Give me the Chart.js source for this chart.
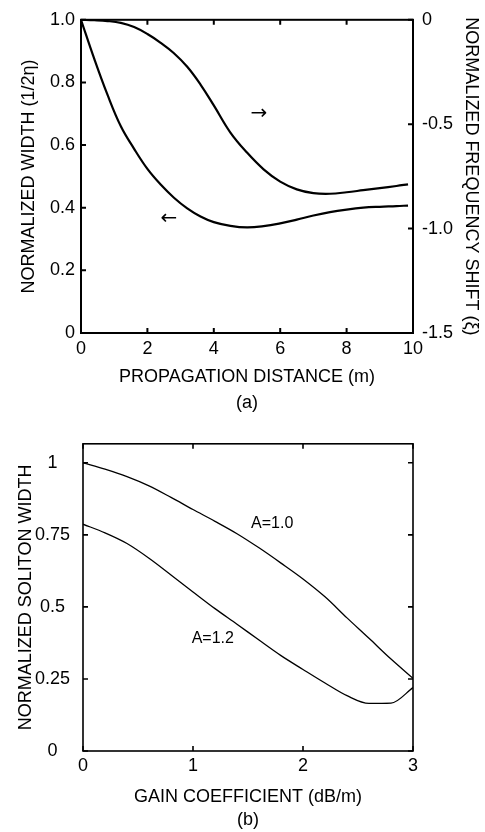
<!DOCTYPE html>
<html>
<head>
<meta charset="utf-8">
<script src="https://cdn.jsdelivr.net/npm/chart.js@4.4.0/dist/chart.umd.min.js"></script>
<style>
body { margin:0; background:#fff; width:485px; height:832px; overflow:hidden; }
canvas { position:absolute; left:0; }
#chartA { top:0; }
#chartB { top:420px; }
</style>
</head>
<body>
<canvas id="chartA" width="485" height="420"></canvas>
<canvas id="chartB" width="485" height="412"></canvas>
<script>
// (a) width and frequency shift against propagation distance
const distA = [0, 0.4, 0.8, 1.2, 1.6, 2.0, 2.4, 2.8, 3.2, 3.6, 4.0, 4.5, 5.0, 5.5, 6.0, 6.5, 7.0, 7.5, 8.0, 8.5, 9.0, 9.5, 9.85];
const widthA = [1.0, 0.875, 0.760, 0.660, 0.588, 0.524, 0.474, 0.432, 0.398, 0.372, 0.354, 0.342, 0.337, 0.341, 0.350, 0.362, 0.375, 0.386, 0.394, 0.400, 0.403, 0.405, 0.407];
const shiftA = [0, -0.002, -0.006, -0.015, -0.035, -0.068, -0.110, -0.160, -0.225, -0.310, -0.410, -0.540, -0.636, -0.716, -0.775, -0.812, -0.830, -0.833, -0.826, -0.816, -0.806, -0.796, -0.788];
const xTicksA = [0, 2, 4, 6, 8, 10];
const xLabelsA = ['0', '2', '4', '6', '8', '10'];
const yTicksA = [0, 0.2, 0.4, 0.6, 0.8, 1.0];
const yLabelsA = ['0', '0.2', '0.4', '0.6', '0.8', '1.0'];
const y2TicksA = [-1.5, -1.0, -0.5, 0];
const y2LabelsA = ['-1.5', '-1.0', '-0.5', '0'];

// (b) soliton width against gain coefficient
const gainB = [0, 0.2, 0.4, 0.6, 0.8, 1.0, 1.2, 1.4, 1.6, 1.8, 2.0, 2.2, 2.4, 2.6, 2.8, 3.0];
const widthB10 = [1.0, 0.978, 0.952, 0.920, 0.880, 0.838, 0.797, 0.754, 0.705, 0.652, 0.597, 0.535, 0.462, 0.391, 0.319, 0.252];
const widthB12 = [0.787, 0.757, 0.720, 0.669, 0.611, 0.552, 0.494, 0.440, 0.385, 0.331, 0.283, 0.236, 0.192, 0.165, 0.166, 0.220];
const xTicksB = [0, 1, 2, 3];
const xLabelsB = ['0', '1', '2', '3'];
const yTicksB = [0, 0.25, 0.5, 0.75, 1];
const yLabelsB = ['0', '0.25', '0.5', '0.75', '1'];

const FONT = '"Liberation Sans", Arial, sans-serif';

function pts(xs, ys) {
    return xs.map((x, i) => ({x: x, y: ys[i]}));
}

function fixTicks(values) {
    return function(scale) { scale.ticks = values.map(v => ({value: v})); };
}

function labelFrom(values, labels) {
    return function(v) { return labels[values.indexOf(v)]; };
}

// frame round the plot and short ticks pointing inward on all four sides
const framePlugin = {
    id: 'frame',
    afterDraw(chart, args, opts) {
        const ctx = chart.ctx;
        const a = chart.chartArea;
        ctx.save();
        ctx.strokeStyle = '#000';
        ctx.lineWidth = opts.width;
        ctx.strokeRect(a.left, a.top, a.right - a.left, a.bottom - a.top);
        ctx.beginPath();
        const len = 5;
        const x = chart.scales.x;
        x.ticks.forEach(t => {
            const px = x.getPixelForValue(t.value);
            ctx.moveTo(px, a.bottom); ctx.lineTo(px, a.bottom - len);
            ctx.moveTo(px, a.top); ctx.lineTo(px, a.top + len);
        });
        const y = chart.scales.y;
        y.ticks.forEach(t => {
            const py = y.getPixelForValue(t.value);
            ctx.moveTo(a.left, py); ctx.lineTo(a.left + len, py);
            if (!chart.scales.y2) { ctx.moveTo(a.right, py); ctx.lineTo(a.right - len, py); }
        });
        if (chart.scales.y2) {
            const y2 = chart.scales.y2;
            y2.ticks.forEach(t => {
                const py = y2.getPixelForValue(t.value);
                ctx.moveTo(a.right, py); ctx.lineTo(a.right - len, py);
            });
        }
        ctx.stroke();
        ctx.restore();
    }
};

// text notes placed at data coordinates
const notePlugin = {
    id: 'notes',
    afterDatasetsDraw(chart, args, opts) {
        const ctx = chart.ctx;
        ctx.save();
        ctx.fillStyle = '#000';
        ctx.textAlign = 'center';
        ctx.textBaseline = 'middle';
        (opts.items || []).forEach(n => {
            const px = chart.scales.x.getPixelForValue(n.x);
            const py = chart.scales[n.axis].getPixelForValue(n.y);
            ctx.font = n.font;
            ctx.fillText(n.text, px, py);
        });
        ctx.restore();
    }
};

const tickFont = {family: FONT, size: 18};

new Chart(document.getElementById('chartA'), {
    type: 'line',
    data: {
        datasets: [
            {data: pts(distA, widthA), yAxisID: 'y', borderColor: '#000', borderWidth: 2.2, pointRadius: 0, tension: 0.4, fill: false},
            {data: pts(distA, shiftA), yAxisID: 'y2', borderColor: '#000', borderWidth: 2.2, pointRadius: 0, tension: 0.4, fill: false}
        ]
    },
    options: {
        responsive: false,
        devicePixelRatio: 1,
        animation: false,
        layout: {padding: {top: 13, left: 0, right: 0, bottom: 0}},
        plugins: {
            legend: {display: false},
            tooltip: {enabled: false},
            frame: {width: 2},
            notes: {items: [
                {text: '\u2192', x: 5.36, y: -0.45, axis: 'y2', font: '20px "DejaVu Sans"'},
                {text: '\u2190', x: 2.65, y: 0.366, axis: 'y', font: '20px "DejaVu Sans"'}
            ]}
        },
        scales: {
            x: {
                type: 'linear', min: 0, max: 10,
                grid: {display: false, drawTicks: false}, border: {display: false},
                afterBuildTicks: fixTicks(xTicksA),
                afterFit: s => { s.height = 87; },
                ticks: {color: '#000', font: tickFont, padding: 5, maxRotation: 0, autoSkip: false, callback: labelFrom(xTicksA, xLabelsA)},
                title: {display: true, text: ['PROPAGATION DISTANCE (m)', '(a)'], color: '#000', font: {family: FONT, size: 18, lineHeight: 1.444}, padding: {top: 0, bottom: 4}}
            },
            y: {
                position: 'left', min: 0, max: 1,
                grid: {display: false, drawTicks: false}, border: {display: false},
                afterBuildTicks: fixTicks(yTicksA),
                afterFit: s => { s.width = 81; },
                ticks: {color: '#000', font: tickFont, padding: 6, autoSkip: false, callback: labelFrom(yTicksA, yLabelsA)},
                title: {display: true, text: 'NORMALIZED WIDTH (1/2\u03b7)', color: '#000', font: {family: FONT, size: 18}, padding: {top: 18, bottom: 0}}
            },
            y2: {
                position: 'right', min: -1.5, max: 0,
                grid: {display: false, drawTicks: false}, border: {display: false},
                afterBuildTicks: fixTicks(y2TicksA),
                afterFit: s => { s.width = 72; },
                ticks: {color: '#000', font: tickFont, padding: 9, autoSkip: false, callback: labelFrom(y2TicksA, y2LabelsA)},
                title: {display: true, text: 'NORMALIZED FREQUENCY SHIFT (\u03be)', color: '#000', font: {family: FONT, size: 18}, padding: {top: 3, bottom: 0}}
            }
        }
    },
    plugins: [framePlugin, notePlugin]
});

new Chart(document.getElementById('chartB'), {
    type: 'line',
    data: {
        datasets: [
            {data: pts(gainB, widthB10), borderColor: '#000', borderWidth: 1.3, pointRadius: 0, cubicInterpolationMode: 'monotone', fill: false},
            {data: pts(gainB, widthB12), borderColor: '#000', borderWidth: 1.3, pointRadius: 0, cubicInterpolationMode: 'monotone', fill: false}
        ]
    },
    options: {
        responsive: false,
        devicePixelRatio: 1,
        animation: false,
        layout: {padding: {top: 8, left: 0, right: 72, bottom: 0}},
        plugins: {
            legend: {display: false},
            tooltip: {enabled: false},
            frame: {width: 1.6},
            notes: {items: [
                {text: 'A=1.0', x: 1.72, y: 0.789, axis: 'y', font: '16px ' + FONT},
                {text: 'A=1.2', x: 1.18, y: 0.389, axis: 'y', font: '16px ' + FONT}
            ]}
        },
        scales: {
            x: {
                type: 'linear', min: 0, max: 3,
                grid: {display: false, drawTicks: false}, border: {display: false},
                afterBuildTicks: fixTicks(xTicksB),
                afterFit: s => { s.height = 81; },
                ticks: {color: '#000', font: tickFont, padding: 4, maxRotation: 0, autoSkip: false, callback: labelFrom(xTicksB, xLabelsB)},
                title: {display: true, text: ['GAIN COEFFICIENT (dB/m)', '(b)'], color: '#000', font: {family: FONT, size: 18, lineHeight: 1.278}, padding: {top: 0, bottom: 0}}
            },
            y: {
                position: 'left', min: 0, max: 1.066,
                grid: {display: false, drawTicks: false}, border: {display: false},
                afterBuildTicks: fixTicks(yTicksB),
                afterFit: s => { s.width = 83; },
                ticks: {color: '#000', font: tickFont, padding: 13, crossAlign: 'center', autoSkip: false, callback: labelFrom(yTicksB, yLabelsB)},
                title: {display: true, text: 'NORMALIZED SOLITON WIDTH', color: '#000', font: {family: FONT, size: 18}, padding: {top: 15, bottom: 0}}
            }
        }
    },
    plugins: [framePlugin, notePlugin]
});
</script>
</body>
</html>
